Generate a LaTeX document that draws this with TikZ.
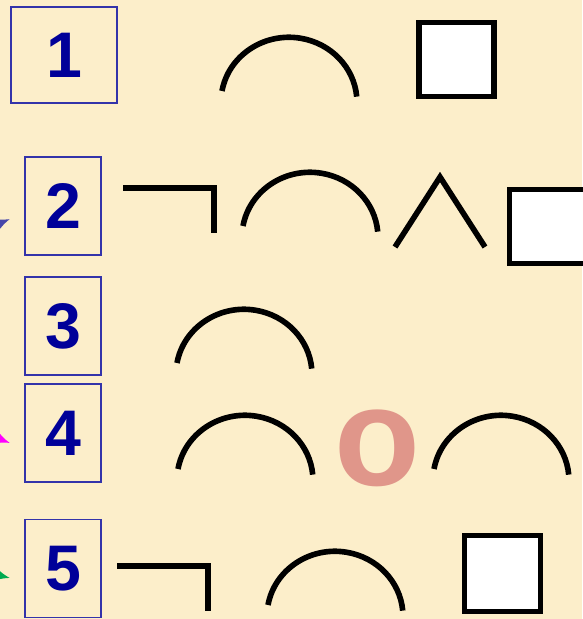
\documentclass[tikz,border=0pt]{standalone}
\usepackage{fontspec}
\setmainfont{Liberation Sans}
\usetikzlibrary{arrows.meta}

\definecolor{paper}{RGB}{252,238,202}
\definecolor{boxblue}{RGB}{51,51,170}
\definecolor{digitblue}{RGB}{0,0,153}
\definecolor{salmon}{RGB}{224,150,138}
\definecolor{arrowblue}{RGB}{70,70,170}
\definecolor{arrowpink}{RGB}{255,0,255}
\definecolor{arrowgreen}{RGB}{0,170,80}

\tikzset{
  numbox/.style={draw=boxblue, line width=1.5pt, inner sep=0pt,
    minimum width=2.28cm, minimum height=2.94cm, text=digitblue,
    font=\fontsize{55}{60}\selectfont\bfseries},
  stroke/.style={line width=4.8pt, black},
  pointer/.style={line width=1.5pt, -{Latex[length=11pt,width=9pt]}},
}

\begin{document}
\begin{tikzpicture}[x=0.03cm, y=-0.03cm]
      \fill[paper] (0,0) rectangle (582,619);
      \useasboundingbox (0,0) rectangle (582,619);

      % NUMBER BOXES
      \node[numbox, minimum width=3.18cm, minimum height=2.88cm] (n1) at (64,55) {1};
      \node[numbox] (n2) at (63,206) {2};
      \node[numbox] (n3) at (63,326) {3};
      \node[numbox] (n4) at (63,433) {4};
      \node[numbox] (n5) at (63,568.5) {5};

      % ROW 1
      \draw[stroke] (222,91) arc[start angle=-170, end angle=-5, x radius=68, y radius=65];
      \draw[stroke, fill=white] (419,22.5) rectangle (494,96.5);

      % ROW 2
      \draw[stroke] (123,188) -- (214,188) -- (214,233);
      \draw[stroke] (243,226) arc[start angle=-170, end angle=-5, x radius=68, y radius=65];
      \draw[stroke] (395,247) -- (440,177) -- (485,247);
      \draw[stroke, fill=white] (509.5,189.5) rectangle (592,263.5);

      % ROW 3
      \draw[stroke] (177,363) arc[start angle=-170, end angle=-5, x radius=68, y radius=65];

      % ROW 4
      \draw[stroke] (178,469) arc[start angle=-170, end angle=-5, x radius=68, y radius=65];
      \node[text=salmon, inner sep=0pt, font=\fontsize{120}{120}\selectfont\bfseries] (ring) at (377,448) {o};
      \draw[stroke] (434,469) arc[start angle=-170, end angle=-5, x radius=68, y radius=65];

      % ROW 5
      \draw[stroke] (117,566) -- (208,566) -- (208,611);
      \draw[stroke] (268,605) arc[start angle=-170, end angle=-5, x radius=68, y radius=65];
      \draw[stroke, fill=white] (464.5,535.5) rectangle (540.5,611.5);

      % ARROWS
      \coordinate (tail2) at (-40,240);
      \coordinate (tip2)  at (10,219);
      \coordinate (tail4) at (-40,424);
      \coordinate (tip4)  at (10,443);
      \coordinate (tail5) at (-40,566);
      \coordinate (tip5)  at (10,578);
      \draw[pointer, arrowblue]  (tail2) -- (tip2);
      \draw[pointer, arrowpink]  (tail4) -- (tip4);
      \draw[pointer, arrowgreen] (tail5) -- (tip5);

\end{tikzpicture}
\end{document}
